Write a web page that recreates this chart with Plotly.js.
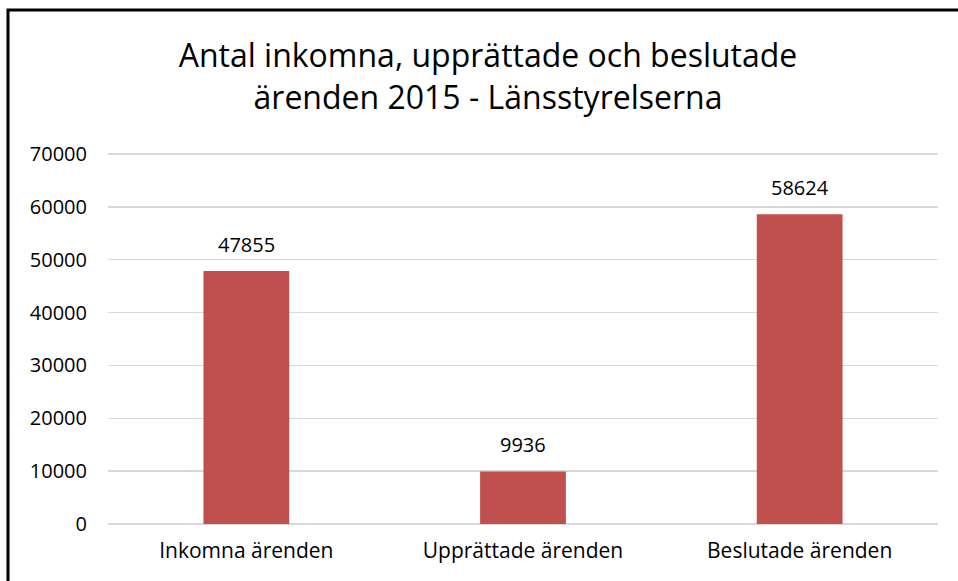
<!DOCTYPE html>
<html>
<head>
<meta charset="utf-8">
<script src="https://cdn.plot.ly/plotly-3.0.1.min.js"></script>
<style>
html,body{margin:0;padding:0;background:#fff;}
#chart{width:958px;height:581px;}
</style>
</head>
<body>
<div id="chart"></div>
<script>
const categories = ["Inkomna ärenden", "Upprättade ärenden", "Beslutade ärenden"];
const values = [47855, 9936, 58624];
const yTicks = [0, 10000, 20000, 30000, 40000, 50000, 60000, 70000];
const titleText = "Antal inkomna, upprättade och beslutade<br>ärenden 2015 - Länsstyrelserna";

const FONT = "'Open Sans', Lato, sans-serif";
const L = 108, R = 20, T = 151, B = 57, W = 958, H = 581;
const pw = W - L - R, ph = H - T - B;
const px = v => (v - L) / pw;
const py = v => (H - B - v) / ph;

const trace = {
  type: "bar",
  x: categories,
  y: values,
  width: 0.31,
  marker: {color: "#C0504D"},
  hoverinfo: "x+y"
};

const annotations = categories.map((c, i) => ({
  x: c, y: values[i], xref: "x", yref: "y",
  text: String(values[i]),
  showarrow: false, yanchor: "bottom", yshift: 11,
  font: {family: FONT, size: 20, color: "#000"}
}));

const layout = {
  width: W, height: H,
  margin: {l: L, r: R, t: T, b: B, pad: 0},
  paper_bgcolor: "#fff", plot_bgcolor: "#fff",
  showlegend: false,
  title: {
    text: titleText,
    x: 488 / W, xanchor: "center", xref: "container",
    y: 1 - 67 / H, yanchor: "top", yref: "container",
    font: {family: FONT, size: 32, color: "#000"}
  },
  xaxis: {
    type: "category",
    showgrid: false, zeroline: false, showline: false, ticks: "",
    ticklabelstandoff: 12,
    tickfont: {family: FONT, size: 21, color: "#000"}
  },
  yaxis: {
    range: [0, 70568],
    tickvals: yTicks, ticktext: yTicks.map(String),
    showgrid: true, gridcolor: "#D9D9D9", gridwidth: 1.5,
    zeroline: true, zerolinecolor: "#D9D9D9", zerolinewidth: 1.5,
    showline: false, ticks: "",
    ticklabelstandoff: 20,
    tickfont: {family: FONT, size: 20, color: "#000"}
  },
  annotations: annotations,
  shapes: [{
    type: "path", xref: "paper", yref: "paper",
    path: `M ${px(8)} ${py(620)} L ${px(8)} ${py(10)} L ${px(990)} ${py(10)}`,
    line: {color: "#000", width: 3}
  }]
};

Plotly.newPlot("chart", [trace], layout, {displayModeBar: false, staticPlot: true});
</script>
</body>
</html>
